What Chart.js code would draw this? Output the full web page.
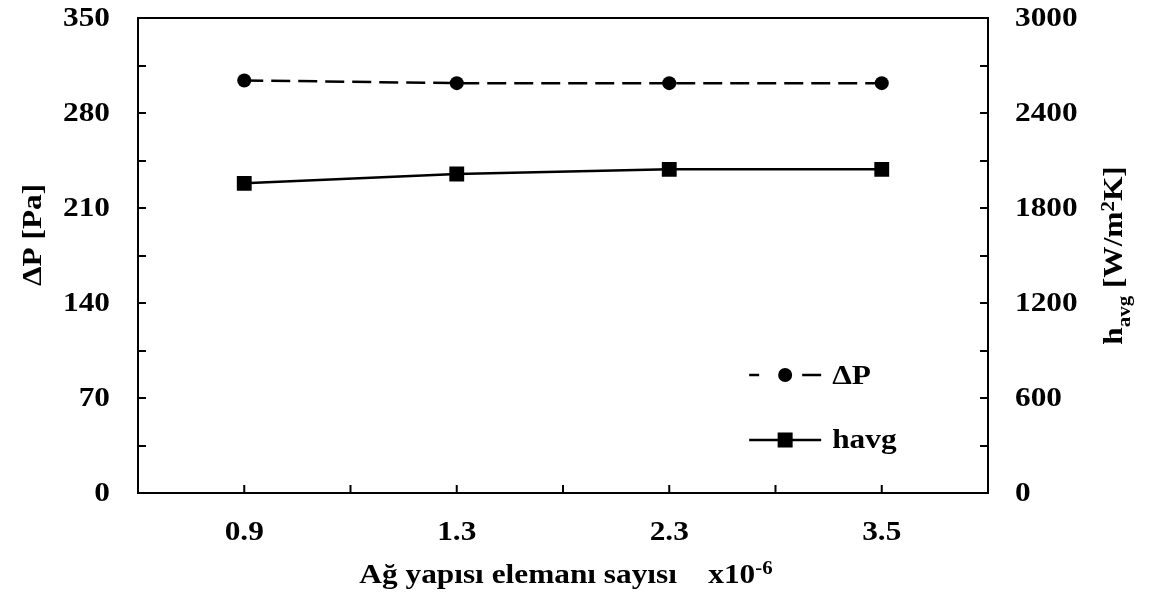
<!DOCTYPE html>
<html>
<head>
<meta charset="utf-8">
<script src="https://cdn.jsdelivr.net/npm/chart.js@4/dist/chart.umd.min.js"></script>
<style>
  body { margin: 0; background: #fff; }
  #wrap { width: 1152px; height: 606px; }
</style>
</head>
<body>
<div id="wrap"><canvas id="meshChart" width="1152" height="606"></canvas></div>
<script>
const categories = ['0.9', '1.3', '2.3', '3.5'];
const deltaP = [304, 302, 302, 302];
const hAvg = [1956, 2015, 2044, 2044];
const leftMax = 350, leftStep = 70, leftMinor = 35;
const rightMax = 3000, rightStep = 600, rightMinor = 300;

const FONT = '"Liberation Serif", "Times New Roman", serif';
const big = 'bold 27px ' + FONT;
const small = 'bold 18px ' + FONT;
const SX = 1.16; // the reference type is wider than Liberation Serif

// draws text stretched along its own direction
function stretchText(ctx, text, x, y, align, font) {
    ctx.save();
    ctx.font = font;
    ctx.textBaseline = 'middle';
    ctx.textAlign = align;
    ctx.translate(x, y);
    ctx.scale(SX, 1);
    ctx.fillText(text, 0, 0);
    ctx.restore();
}

function drawParts(ctx, parts, cx, cy, rotated) {
    let total = 0;
    parts.forEach(p => { ctx.font = p.f; p.w = ctx.measureText(p.t).width; total += p.w; });
    ctx.save();
    ctx.translate(cx, cy);
    if (rotated) ctx.rotate(-Math.PI / 2);
    ctx.scale(SX, 1);
    ctx.textAlign = 'left';
    ctx.textBaseline = 'alphabetic';
    let x = -total / 2;
    parts.forEach(p => {
        ctx.font = p.f;
        ctx.fillText(p.t, x, 9 + p.dy);
        x += p.w;
    });
    ctx.restore();
}

// frame, inward ticks, tick labels, axis titles and the legend
const decorPlugin = {
    id: 'decor',
    afterDraw(chart) {
        const { ctx, chartArea: a, scales } = chart;
        ctx.save();
        ctx.strokeStyle = '#000';
        ctx.fillStyle = '#000';
        ctx.lineWidth = 2;
        ctx.setLineDash([]);
        ctx.strokeRect(a.left, a.top, a.right - a.left, a.bottom - a.top);

        const tl = 8;
        ctx.beginPath();
        for (let v = 0; v <= leftMax; v += leftMinor) {
            const y = Math.round(scales.y.getPixelForValue(v));
            ctx.moveTo(a.left, y);
            ctx.lineTo(a.left + tl, y);
        }
        for (let v = 0; v <= rightMax; v += rightMinor) {
            const y = Math.round(scales.y1.getPixelForValue(v));
            ctx.moveTo(a.right, y);
            ctx.lineTo(a.right - tl, y);
        }
        for (let i = 0; i < categories.length; i++) {
            const x = scales.x.getPixelForValue(i);
            ctx.moveTo(x, a.bottom);
            ctx.lineTo(x, a.bottom - tl);
            if (i < categories.length - 1) {
                const mid = (x + scales.x.getPixelForValue(i + 1)) / 2;
                ctx.moveTo(mid, a.bottom);
                ctx.lineTo(mid, a.bottom - tl);
            }
        }
        ctx.stroke();

        // tick labels
        scales.y.ticks.forEach(t => {
            stretchText(ctx, String(t.value), a.left - 28, scales.y.getPixelForValue(t.value) + 1, 'right', big);
        });
        scales.y1.ticks.forEach(t => {
            stretchText(ctx, String(t.value), a.right + 27, scales.y1.getPixelForValue(t.value) + 1, 'left', big);
        });
        categories.forEach((c, i) => {
            stretchText(ctx, c, scales.x.getPixelForValue(i), a.bottom + 40, 'center', big);
        });

        // left title
        drawParts(ctx, [{ t: 'ΔP [Pa]', f: big, dy: 0 }], 32, 235, true);

        // right title with sub/superscript
        drawParts(ctx, [
            { t: 'h', f: big, dy: 0 },
            { t: 'avg', f: small, dy: 8 },
            { t: ' [W/m', f: big, dy: 0 },
            { t: '2', f: small, dy: -8 },
            { t: 'K]', f: big, dy: 0 }
        ], 1113, (a.top + a.bottom) / 2, true);

        // x title
        drawParts(ctx, [
            { t: 'Ağ yapısı elemanı sayısı    x10', f: big, dy: 0 },
            { t: '-6', f: small, dy: -9 }
        ], 566, 574, false);

        // legend
        const lx = a.left + (a.right - a.left) * 0.719;
        const lw = 72;
        const ly1 = 375, ly2 = 440;
        ctx.lineWidth = 2.5;
        ctx.beginPath();
        ctx.moveTo(lx, ly1); ctx.lineTo(lx + 10, ly1);
        ctx.moveTo(lx + lw - 19, ly1); ctx.lineTo(lx + lw, ly1);
        ctx.moveTo(lx, ly2); ctx.lineTo(lx + lw, ly2);
        ctx.stroke();
        ctx.beginPath();
        ctx.arc(lx + lw / 2, ly1, 7, 0, Math.PI * 2);
        ctx.fill();
        ctx.fillRect(lx + lw / 2 - 7.5, ly2 - 7.5, 15, 15);
        stretchText(ctx, 'ΔP', lx + lw + 11, ly1 + 2, 'left', big);
        stretchText(ctx, 'havg', lx + lw + 11, ly2 + 1, 'left', big);
        ctx.restore();
    }
};

const ctx = document.getElementById('meshChart');
new Chart(ctx, {
    type: 'line',
    data: {
        labels: categories,
        datasets: [{
            label: 'ΔP',
            data: deltaP,
            yAxisID: 'y',
            borderColor: '#000',
            backgroundColor: '#000',
            borderWidth: 2.5,
            borderDash: [19, 8],
            pointStyle: 'circle',
            pointRadius: 7,
            pointBorderWidth: 0,
            tension: 0
        }, {
            label: 'havg',
            data: hAvg,
            yAxisID: 'y1',
            borderColor: '#000',
            backgroundColor: '#000',
            borderWidth: 2.5,
            pointStyle: 'rect',
            pointRadius: 10.5,
            pointBorderWidth: 0,
            tension: 0
        }]
    },
    options: {
        responsive: false,
        animation: false,
        layout: { padding: { top: 18, left: 0, right: 0, bottom: 0 } },
        scales: {
            x: {
                type: 'category',
                offset: true,
                grid: { display: false, drawTicks: false },
                border: { display: false },
                ticks: { display: false },
                afterFit(scale) { scale.height = 113; }
            },
            y: {
                position: 'left',
                min: 0,
                max: leftMax,
                grid: { display: false, drawTicks: false },
                border: { display: false },
                ticks: { display: false, stepSize: leftStep },
                afterFit(scale) { scale.width = 138; }
            },
            y1: {
                position: 'right',
                min: 0,
                max: rightMax,
                grid: { display: false, drawTicks: false },
                border: { display: false },
                ticks: { display: false, stepSize: rightStep },
                afterFit(scale) { scale.width = 164; }
            }
        },
        plugins: {
            legend: { display: false },
            tooltip: { enabled: false }
        }
    },
    plugins: [decorPlugin]
});
</script>
</body>
</html>
